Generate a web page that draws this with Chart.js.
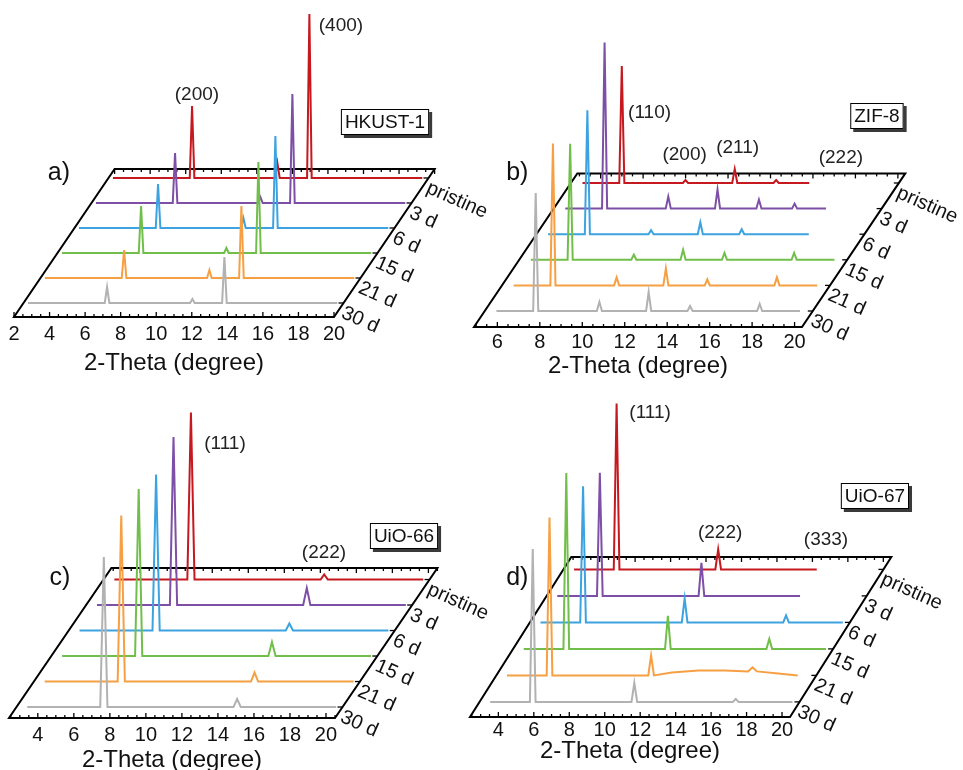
<!DOCTYPE html>
<html>
<head>
<meta charset="utf-8">
<title>XRD waterfall - MOF stability</title>
<script src="https://cdn.jsdelivr.net/npm/chart.js@4.4.0/dist/chart.umd.min.js"></script>
<style>
  body { margin: 0; background: #fff; }
  #wrap { position: relative; width: 963px; height: 770px; }
  #wrap canvas { position: absolute; left: 0; top: 0; }
</style>
</head>
<body>
<div id="wrap">
  <canvas id="chartA" width="963" height="770"></canvas>
  <canvas id="chartB" width="963" height="770"></canvas>
  <canvas id="chartC" width="963" height="770"></canvas>
  <canvas id="chartD" width="963" height="770"></canvas>
</div>
<script>
"use strict";

const FONT = '"Liberation Sans", Arial, Helvetica, sans-serif';

// sample ages, front trace (30 d) to back trace (pristine)
const ageLabels = ['30 d', '21 d', '15 d', '6 d', '3 d', 'pristine'];
const traceColors = ['#b2b2b2', '#f6a043', '#71bf4a', '#3da3e0', '#7e4fa6', '#c5181f'];

// HKUST-1: reflection positions (2-theta) and peak heights per age (a.u.)
const hkustPeakPos = [6.7, 11.5, 13.3];
const hkustHeights = [
  [16, 4, 46],
  [28, 8, 72],
  [47, 5, 91],
  [44, 10, 92],
  [50, 6, 109],
  [72, 15, 164]
];
const hkustRange = [2.25, 19.65];
const hkustTicks = [2, 4, 6, 8, 10, 12, 14, 16, 18, 20];

// ZIF-8
const zifPeakPos = [7.3, 10.3, 12.62, 14.57, 16.25, 17.85];
const zifHeights = [
  [118, 9, 19, 5, 0, 7],
  [142, 8, 17, 6, 0, 8],
  [116, 5, 10, 7, 0, 7],
  [124, 4, 12, 5, 0, 5],
  [166, 12, 19, 9, 5, 14],
  [117, 3, 14, 3, 3, 6]
];
const zifRange = [5.45, 19.75];
const zifTicks = [6, 8, 10, 12, 14, 16, 18, 20];

// UiO-66
const uio66PeakPos = [7.25, 14.65];
const uio66Heights = [
  [150, 8],
  [166, 9],
  [167, 14],
  [156, 7],
  [168, 17],
  [167, 5]
];
const uio66Range = [3.0, 20.15];
const uio66Ticks = [4, 6, 8, 10, 12, 14, 16, 18, 20];

// UiO-67 (21 d trace has a broad amorphous hump)
const uio67PeakPos = [5.4, 11.13, 16.85];
const uio67Heights = [
  [153, 19, 3],
  [158, 20, 0],
  [176, 33, 10],
  [136, 24, 7],
  [123, 33, 13],
  [166, 20, 3]
];
const uio67HumpX = [12.3, 13.8, 15.3, 16.6, 16.85, 17.1, 18.3, 19.4];
const uio67HumpY = [3, 5, 5, 4, 8, 4, 2, 0];
const uio67Range = [3.0, 20.05];
const uio67Ticks = [4, 6, 8, 10, 12, 14, 16, 18, 20];

// panel geometry (pixels of the front edge, offsets per trace step)
const frameA = { left: 14, right: 334, edgeY: 317, xMin: 2, xMax: 20, shiftX: 0.956, shiftY: 25, depth0: 0.56, boxDepth: 5.92, halfWidth: 0.13, tickPad: 5, titleOffset: 46 };
const frameB = { left: 474, right: 802, edgeY: 327, xMin: 4.9, xMax: 20.35, shiftX: 0.811, shiftY: 25.6, depth0: 0.625, boxDepth: 6.0, halfWidth: 0.12, tickPad: 3, titleOffset: 39.5 };
const frameC = { left: 9, right: 335, edgeY: 718, xMin: 2.4, xMax: 20.5, shiftX: 0.967, shiftY: 25.5, depth0: 0.43, boxDepth: 5.88, halfWidth: 0.2, tickPad: 5, titleOffset: 42 };
const frameD = { left: 470, right: 790, edgeY: 717, xMin: 2.4, xMax: 20.45, shiftX: 0.946, shiftY: 26.5, depth0: 0.57, boxDepth: 6.04, halfWidth: 0.16, tickPad: 1.5, titleOffset: 34 };

// build one trace: flat baseline with triangular peaks, shifted back by its depth
function buildTrace(pos, heights, range, extra, depth, frame) {
  const ox = depth * frame.shiftX;
  const oy = depth * frame.shiftY;
  const pts = [[range[0], 0], [range[1], 0]];
  pos.forEach((p, k) => {
    if (!heights[k]) return;
    pts.push([p - frame.halfWidth, 0], [p, heights[k]], [p + frame.halfWidth, 0]);
  });
  if (extra) extra.forEach(e => pts.push(e));
  pts.sort((a, b) => a[0] - b[0]);
  return pts.map(q => ({ x: q[0] + ox, y: q[1] + oy }));
}

function makeDatasets(pos, heights, range, frame, extras) {
  return heights.map((h, i) => ({
    label: ageLabels[i],
    data: buildTrace(pos, h, range, extras ? extras[i] : null, frame.depth0 + i, frame),
    borderColor: traceColors[i],
    borderWidth: 2,
    pointRadius: 0,
    tension: 0,
    clip: false,
    order: i
  }));
}

// draws the slanted box, its ticks, the age labels and the annotations
function makeDecor(frame, ticks, deco) {
  function line(ctx, x1, y1, x2, y2) {
    ctx.beginPath();
    ctx.moveTo(x1, y1);
    ctx.lineTo(x2, y2);
    ctx.stroke();
  }
  return {
    id: 'decor' + deco.id,
    beforeDatasetsDraw(chart) {
      const { ctx, scales: { x, y } } = chart;
      const P = (xv, d) => [x.getPixelForValue(xv + d * frame.shiftX), y.getPixelForValue(d * frame.shiftY)];
      const D = frame.boxDepth;
      const c = [P(frame.xMin, 0), P(frame.xMax, 0), P(frame.xMax, D), P(frame.xMin, D)];
      ctx.save();
      ctx.strokeStyle = '#000';
      ctx.lineWidth = 2;
      ctx.beginPath();
      ctx.moveTo(c[0][0], c[0][1]);
      for (let k = 1; k < 4; k++) ctx.lineTo(c[k][0], c[k][1]);
      ctx.closePath();
      ctx.stroke();

      ctx.lineWidth = 1.3;
      for (let v = Math.ceil(frame.xMin * 2) / 2; v <= frame.xMax + 1e-6; v += 0.5) {
        const major = ticks.some(t => Math.abs(t - v) < 1e-6);
        const len = major ? 5 : 3;
        const b = P(v, 0);
        line(ctx, b[0], b[1], b[0], b[1] - len);
        const t = P(v, D);
        line(ctx, t[0], t[1], t[0], t[1] + len);
      }
      for (let i = 0; i < ageLabels.length; i++) {
        const r = P(frame.xMax, frame.depth0 + i);
        line(ctx, r[0], r[1], r[0] - 5, r[1]);
      }
      ctx.restore();
    },
    afterDatasetsDraw(chart) {
      const { ctx, scales: { x, y } } = chart;
      ctx.save();
      ctx.fillStyle = '#111';

      // age labels along the right edge
      ctx.font = '20px ' + FONT;
      ctx.textAlign = 'left';
      ctx.textBaseline = 'top';
      ageLabels.forEach((lab, i) => {
        const d = frame.depth0 + i;
        const px = x.getPixelForValue(frame.xMax + d * frame.shiftX);
        const py = y.getPixelForValue(d * frame.shiftY);
        ctx.save();
        ctx.translate(px + 3, py);
        ctx.rotate(24 * Math.PI / 180);
        ctx.fillText(lab, 0, 0);
        ctx.restore();
      });

      // reflection labels
      ctx.font = '19px ' + FONT;
      ctx.fillStyle = '#222';
      ctx.textAlign = 'center';
      ctx.textBaseline = 'middle';
      deco.peaks.forEach(p => {
        ctx.fillText(p.text, x.getPixelForValue(p.x), y.getPixelForValue(p.y));
      });

      // sample name in a shadowed box
      const sx = x.getPixelForValue(deco.sample.x);
      const sy = y.getPixelForValue(deco.sample.y);
      const w = ctx.measureText(deco.sample.text).width + 8;
      const h = 26;
      ctx.fillStyle = '#3a3a3a';
      ctx.fillRect(sx - w / 2 + 3, sy - h / 2 + 3, w, h);
      ctx.fillStyle = '#fff';
      ctx.fillRect(sx - w / 2, sy - h / 2, w, h);
      ctx.strokeStyle = '#000';
      ctx.lineWidth = 1;
      ctx.strokeRect(sx - w / 2 + 0.5, sy - h / 2 + 0.5, w - 1, h - 1);
      ctx.fillStyle = '#111';
      ctx.fillText(deco.sample.text, sx, sy + 1);

      // panel letter
      ctx.font = '25px ' + FONT;
      ctx.fillText(deco.letter.text, x.getPixelForValue(deco.letter.x), y.getPixelForValue(deco.letter.y));
      ctx.restore();
    }
  };
}

function makeChart(canvasId, frame, datasets, ticks, deco) {
  const yMax = 300;
  const axisH = frame.titleOffset + 14.4;
  return new Chart(document.getElementById(canvasId), {
    type: 'line',
    data: { datasets: datasets },
    options: {
      responsive: false,
      animation: false,
      devicePixelRatio: 1,
      events: [],
      layout: {
        padding: {
          left: frame.left,
          right: 963 - frame.right,
          top: frame.edgeY - yMax,
          bottom: 770 - frame.edgeY - axisH
        }
      },
      plugins: {
        legend: { display: false },
        tooltip: { enabled: false }
      },
      scales: {
        x: {
          type: 'linear',
          min: frame.xMin,
          max: frame.xMax,
          afterBuildTicks: ax => { ax.ticks = ticks.map(v => ({ value: v })); },
          afterFit: ax => { ax.height = axisH; },
          grid: { display: false, drawTicks: false },
          border: { display: false },
          ticks: {
            autoSkip: false,
            maxRotation: 0,
            padding: frame.tickPad,
            color: '#111',
            font: { family: FONT, size: 20 }
          },
          title: {
            display: true,
            text: '2-Theta (degree)',
            color: '#111',
            font: { family: FONT, size: 24 },
            padding: { top: 0, bottom: 0 }
          }
        },
        y: { display: false, min: 0, max: yMax }
      }
    },
    plugins: [makeDecor(frame, ticks, deco)]
  });
}

const uio67Extras = [null, uio67HumpX.map((v, k) => [v, uio67HumpY[k]]), null, null, null, null];

makeChart('chartA', frameA, makeDatasets(hkustPeakPos, hkustHeights, hkustRange, frameA), hkustTicks, {
  id: 'A',
  peaks: [{ text: '(200)', x: 12.29, y: 222 }, { text: '(400)', x: 20.39, y: 291 }],
  sample: { text: 'HKUST-1', x: 22.87, y: 195 },
  letter: { text: 'a)', x: 4.53, y: 144 }
});

makeChart('chartB', frameB, makeDatasets(zifPeakPos, zifHeights, zifRange, frameB), zifTicks, {
  id: 'B',
  peaks: [
    { text: '(110)', x: 13.17, y: 214 },
    { text: '(200)', x: 14.82, y: 172 },
    { text: '(211)', x: 17.32, y: 179 },
    { text: '(222)', x: 22.18, y: 169 }
  ],
  sample: { text: 'ZIF-8', x: 23.88, y: 211 },
  letter: { text: 'b)', x: 6.94, y: 154 }
});

makeChart('chartC', frameC, makeDatasets(uio66PeakPos, uio66Heights, uio66Range, frameC), uio66Ticks, {
  id: 'C',
  peaks: [{ text: '(111)', x: 14.39, y: 274 }, { text: '(222)', x: 19.89, y: 165 }],
  sample: { text: 'UiO-66', x: 24.33, y: 182 },
  letter: { text: 'c)', x: 5.22, y: 140 }
});

makeChart('chartD', frameD, makeDatasets(uio67PeakPos, uio67Heights, uio67Range, frameD, uio67Extras), uio67Ticks, {
  id: 'D',
  peaks: [
    { text: '(111)', x: 12.56, y: 304 },
    { text: '(222)', x: 16.51, y: 184 },
    { text: '(333)', x: 22.48, y: 177 }
  ],
  sample: { text: 'UiO-67', x: 25.24, y: 221 },
  letter: { text: 'd)', x: 5.07, y: 139 }
});
</script>
</body>
</html>
